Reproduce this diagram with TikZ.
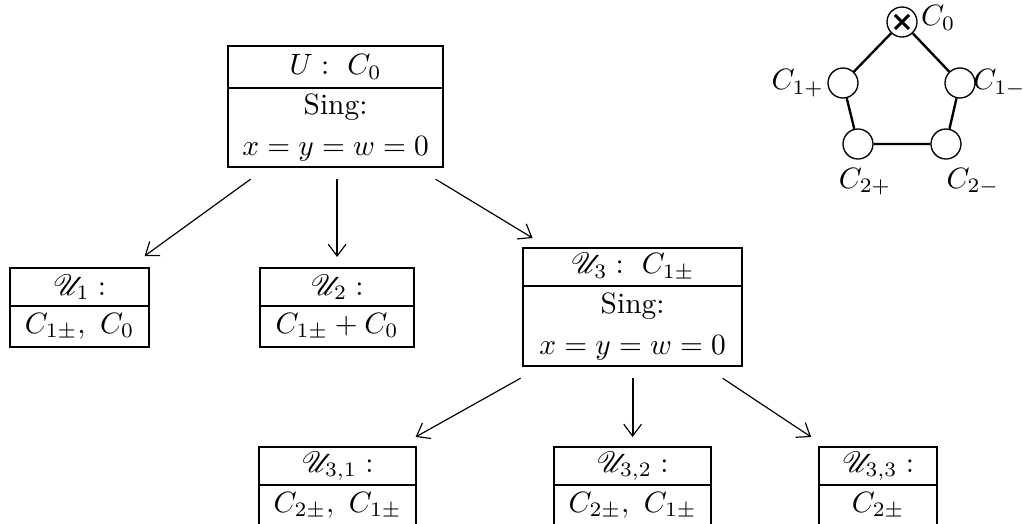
\documentclass[tikz,border=0pt]{standalone}
\usepackage{amsmath}
\usepackage{mathrsfs}
\usetikzlibrary{calc,arrows.meta}
\def\pxu{0.34pt}
\begin{document}
\begin{tikzpicture}[x=0.34pt,y=-0.34pt,
  part/.style={draw, line width=0.75pt, inner sep=0pt, anchor=north west, align=center},
  arr/.style={-{Straight Barb[length=4pt,width=6pt,line width=0.4pt]}, line width=0.4pt},
  comp/.style={circle, draw, line width=0.45pt, inner sep=0pt, minimum size=30*\pxu},
  link/.style={line width=0.8pt},
  ]
\useasboundingbox (0,0) rectangle (1023,524);
% U
\node[part, minimum width=215*\pxu, minimum height=42*\pxu] (U) at (227,45) {$U:\ C_0$};
\node[part, minimum width=215*\pxu, minimum height=79*\pxu] (Ub) at (227,87) {Sing:\\[2pt]$x=y=w=0$};
% U1
\node[part, minimum width=139*\pxu, minimum height=38*\pxu] (U1) at (9,267) {$\mathscr{U}_1:$};
\node[part, minimum width=139*\pxu, minimum height=41*\pxu] (U1b) at (9,305) {$C_{1\pm},\ C_0$};
% U2
\node[part, minimum width=154*\pxu, minimum height=38*\pxu] (U2) at (259,267) {$\mathscr{U}_2:$};
\node[part, minimum width=154*\pxu, minimum height=41*\pxu] (U2b) at (259,305) {$C_{1\pm}+C_0$};
% U3
\node[part, minimum width=219*\pxu, minimum height=38*\pxu] (U3) at (522,247) {$\mathscr{U}_3:\ C_{1\pm}$};
\node[part, minimum width=219*\pxu, minimum height=80*\pxu] (U3b) at (522,285) {Sing:\\[2pt]$x=y=w=0$};
% U31
\node[part, minimum width=157*\pxu, minimum height=38*\pxu] (U31) at (258,446) {$\mathscr{U}_{3,1}:$};
\node[part, minimum width=157*\pxu, minimum height=41*\pxu] (U31b) at (258,484) {$C_{2\pm},\ C_{1\pm}$};
% U32
\node[part, minimum width=157*\pxu, minimum height=38*\pxu] (U32) at (553,446) {$\mathscr{U}_{3,2}:$};
\node[part, minimum width=157*\pxu, minimum height=41*\pxu] (U32b) at (553,484) {$C_{2\pm},\ C_{1\pm}$};
% U33
\node[part, minimum width=118*\pxu, minimum height=38*\pxu] (U33) at (818,446) {$\mathscr{U}_{3,3}:$};
\node[part, minimum width=118*\pxu, minimum height=41*\pxu] (U33b) at (818,484) {$C_{2\pm}$};
% arrows
\draw[arr] ([xshift=-85*\pxu, yshift=-11*\pxu]Ub.south) -- ([xshift=65*\pxu, yshift=11*\pxu]U1.north);
\draw[arr, line width=0.7pt] ([yshift=-11*\pxu]Ub.south -| U2.north) -- ([yshift=10*\pxu]U2.north);
\draw[arr] ([xshift=100*\pxu, yshift=-11*\pxu]Ub.south) -- ([xshift=-100*\pxu, yshift=9*\pxu]U3.north);
\draw[arr] ([xshift=-112*\pxu, yshift=-11*\pxu]U3b.south) -- ([xshift=78*\pxu, yshift=9*\pxu]U31.north);
\draw[arr, line width=0.7pt] ([yshift=-11*\pxu]U3b.south) -- ([yshift=9*\pxu]U32.north);
\draw[arr] ([xshift=90*\pxu, yshift=-11*\pxu]U3b.south) -- ([xshift=-67*\pxu, yshift=9*\pxu]U33.north);
% pentagon
\node[comp] (C0) at (902,22) {};
\node[comp] (C1p) at (843,83) {};
\node[comp] (C1m) at (960,83) {};
\node[comp] (C2p) at (858,144) {};
\node[comp] (C2m) at (946,144) {};
\draw[line width=1pt] ([shift={(-7,-7)}]C0.center) -- ([shift={(7,7)}]C0.center)
  ([shift={(-7,7)}]C0.center) -- ([shift={(7,-7)}]C0.center);
\draw[link] (C0) -- (C1p) -- (C2p) -- (C2m) -- (C1m) -- (C0);
\node[anchor=west, inner sep=1pt] (L0) at ([yshift=4*\pxu]C0.east) {$C_0$};
\node[anchor=east, inner sep=1pt] (L1p) at (C1p.west) {$C_{1+}$};
\node[anchor=west, inner sep=0pt] (L1m) at ([xshift=-3*\pxu]C1m.east) {$C_{1-}$};
\node[anchor=north, inner sep=1pt] (L2p) at ([xshift=7*\pxu, yshift=-5*\pxu]C2p.south) {$C_{2+}$};
\node[anchor=north, inner sep=1pt] (L2m) at ([xshift=27*\pxu, yshift=-5*\pxu]C2m.south) {$C_{2-}$};
\end{tikzpicture}
\end{document}
